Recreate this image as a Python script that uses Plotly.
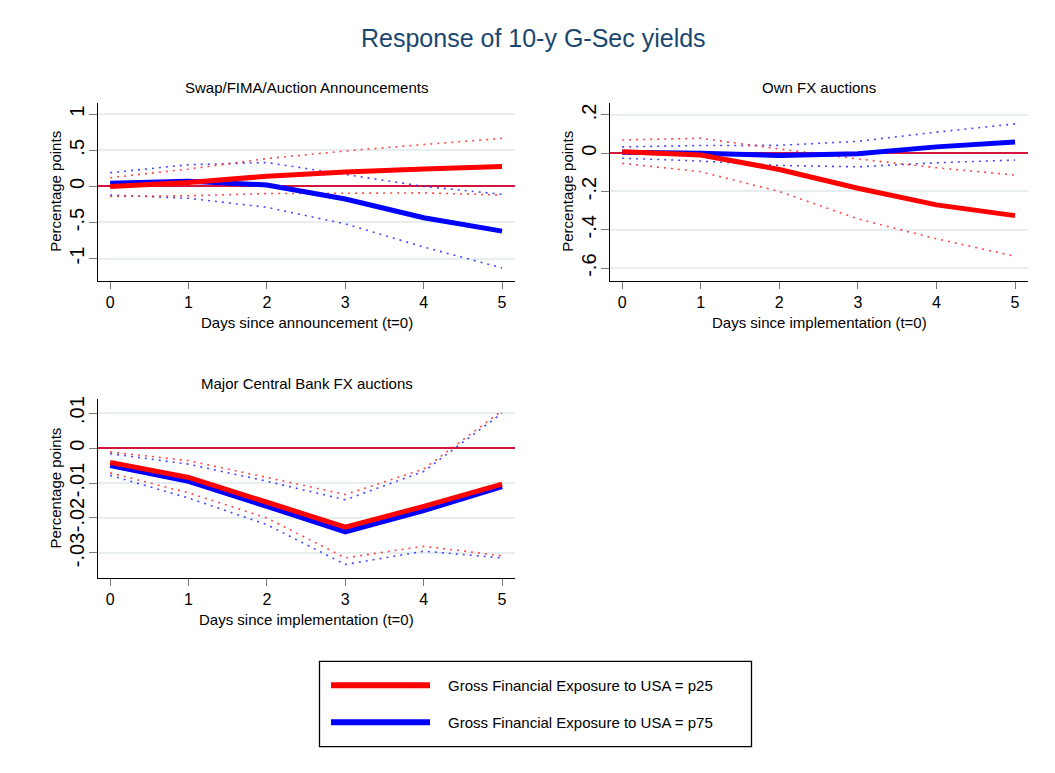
import plotly.graph_objects as go

# page has an 8px body margin; figure is sized/positioned to compensate
OFF = 8
W, H = 1055 - OFF, 773 - OFF
FONT = "Liberation Sans, Arial, sans-serif"

days = [0, 1, 2, 3, 4, 5]

# Panel 1: Swap/FIMA/Auction Announcements
p1_p25 = [0.0, 0.055, 0.14, 0.2, 0.24, 0.275]
p1_p75 = [0.045, 0.07, 0.02, -0.175, -0.435, -0.62]
p1_p25_hi = [0.12, 0.24, 0.385, 0.49, 0.58, 0.665]
p1_p25_lo = [-0.14, -0.13, -0.10, -0.095, -0.09, -0.12]
p1_p75_hi = [0.19, 0.30, 0.33, 0.17, 0.0, -0.11]
p1_p75_lo = [-0.12, -0.165, -0.29, -0.52, -0.84, -1.13]

# Panel 2: Own FX auctions
p2_p25 = [0.007, -0.009, -0.085, -0.183, -0.27, -0.326]
p2_p75 = [0.005, 0.0, -0.012, -0.003, 0.033, 0.059]
p2_p25_hi = [0.069, 0.078, 0.022, -0.03, -0.076, -0.114]
p2_p25_lo = [-0.053, -0.097, -0.2, -0.343, -0.447, -0.538]
p2_p75_hi = [0.033, 0.04, 0.041, 0.062, 0.11, 0.153]
p2_p75_lo = [-0.026, -0.041, -0.064, -0.071, -0.05, -0.036]

# Panel 3: Major Central Bank FX auctions
p3_p25 = [-0.0041, -0.0084, -0.0155, -0.0226, -0.0167, -0.0103]
p3_p75 = [-0.0050, -0.0095, -0.0167, -0.0240, -0.0179, -0.0110]
p3_p25_hi = [-0.0011, -0.0036, -0.0084, -0.0133, -0.0060, 0.0107]
p3_p25_lo = [-0.0071, -0.0128, -0.0200, -0.0314, -0.0281, -0.0308]
p3_p75_hi = [-0.0016, -0.0046, -0.0095, -0.0148, -0.0067, 0.0100]
p3_p75_lo = [-0.0078, -0.0143, -0.0219, -0.0333, -0.0295, -0.0314]

panel_titles = ["Swap/FIMA/Auction Announcements", "Own FX auctions",
                "Major Central Bank FX auctions"]
x_titles = ["Days since announcement (t=0)", "Days since implementation (t=0)",
            "Days since implementation (t=0)"]
y_title = "Percentage points"
p1_ticks = [1, 0.5, 0, -0.5, -1]
p1_ticktext = ["1", ".5", "0", "-.5", "-1"]
p2_ticks = [0.2, 0, -0.2, -0.4, -0.6]
p2_ticktext = [".2", "0", "-.2", "-.4", "-.6"]
p3_ticks = [0.01, 0, -0.01, -0.02, -0.03]
p3_ticktext = [".01", "0", "-.01", "-.02", "-.03"]
legend_labels = ["Gross Financial Exposure to USA = p25",
                 "Gross Financial Exposure to USA = p75"]
main_title = "Response of 10-y G-Sec yields"

RED = "#ff0000"
BLUE = "#0000ff"
RED_DOT = "rgba(255,40,40,0.85)"
BLUE_DOT = "rgba(40,40,255,0.85)"


def px_x(p):
    return (p - OFF) / W


def px_y(p):
    return 1 - (p - OFF) / H


fig = go.Figure()

panels = [
    ("x", "y", p1_p25, p1_p75, p1_p25_hi, p1_p25_lo, p1_p75_hi, p1_p75_lo),
    ("x2", "y2", p2_p25, p2_p75, p2_p25_hi, p2_p25_lo, p2_p75_hi, p2_p75_lo),
    ("x3", "y3", p3_p25, p3_p75, p3_p25_hi, p3_p25_lo, p3_p75_hi, p3_p75_lo),
]

for xa, ya, s25, s75, h25, l25, h75, l75 in panels:
    for vals, col in [(h75, BLUE_DOT), (l75, BLUE_DOT), (h25, RED_DOT), (l25, RED_DOT)]:
        fig.add_trace(go.Scatter(x=days, y=vals, mode="lines", xaxis=xa, yaxis=ya,
                                 line=dict(color=col, width=1.6, dash="2px,5px"),
                                 showlegend=False, hoverinfo="skip"))
    fig.add_trace(go.Scatter(x=days, y=s75, mode="lines", xaxis=xa, yaxis=ya,
                             line=dict(color=BLUE, width=5), name=legend_labels[1],
                             showlegend=False))
    fig.add_trace(go.Scatter(x=days, y=s25, mode="lines", xaxis=xa, yaxis=ya,
                             line=dict(color=RED, width=5), name=legend_labels[0],
                             showlegend=False))

xdom_left = [px_x(98), px_x(515)]
xdom_right = [px_x(610), px_x(1028)]
ydom_top = [px_y(279), px_y(100)]
ydom_bot = [px_y(577), px_y(398)]


def xaxis_cfg(dom, anchor):
    return dict(domain=dom, anchor=anchor, range=[-0.155, 5.165],
                tickvals=days, ticks="outside", ticklen=7, tickwidth=1.2,
                tickcolor="#7a7a7a", showline=True, linecolor="black", linewidth=1.3,
                showgrid=False, zeroline=False,
                tickfont=dict(family=FONT, size=16, color="black"))


def yaxis_cfg(dom, anchor, rng, tv, tt):
    return dict(domain=dom, anchor=anchor, range=rng, tickvals=tv, ticktext=tt,
                tickangle=-90, ticks="outside", ticklen=8, tickwidth=1.2,
                ticklabelstandoff=-3,
                tickcolor="#7a7a7a", showline=True, linecolor="black", linewidth=1.3,
                showgrid=True, gridcolor="#e6eef0", gridwidth=1.6,
                zeroline=True, zerolinecolor="#d4163f", zerolinewidth=1.5,
                tickfont=dict(family=FONT, size=20, color="black"))


fig.update_layout(
    width=W, height=H,
    margin=dict(l=0, r=0, t=0, b=0),
    paper_bgcolor="white", plot_bgcolor="white",
    showlegend=False,
    font=dict(family=FONT, color="black"),
    xaxis=xaxis_cfg(xdom_left, "y"),
    yaxis=yaxis_cfg(ydom_top, "x", [-1.31, 1.16], p1_ticks, p1_ticktext),
    xaxis2=xaxis_cfg(xdom_right, "y2"),
    yaxis2=yaxis_cfg(ydom_top, "x2", [-0.667, 0.264], p2_ticks, p2_ticktext),
    xaxis3=xaxis_cfg(xdom_left, "y3"),
    yaxis3=yaxis_cfg(ydom_bot, "x3", [-0.0371, 0.0139], p3_ticks, p3_ticktext),
)


def text_ann(text, x, y, size, color="black", angle=0, xanchor="center"):
    return dict(text=text, x=px_x(x), y=px_y(y), xref="paper", yref="paper",
                showarrow=False, xanchor=xanchor, yanchor="middle", textangle=angle,
                font=dict(family=FONT, size=size, color=color))


annotations = [
    text_ann(main_title, 533, 35, 25, "#1a476f"),
    text_ann(panel_titles[0], 306.5, 85, 15),
    text_ann(panel_titles[1], 819, 85, 15),
    text_ann(panel_titles[2], 306.5, 382, 15),
    # axis titles
    text_ann(x_titles[0], 306.5, 321, 15),
    text_ann(x_titles[1], 819, 321, 15),
    text_ann(x_titles[2], 306.5, 619, 15),
    text_ann(y_title, 56, 189.5, 15, angle=-90),
    text_ann(y_title, 568, 189.5, 15, angle=-90),
    text_ann(y_title, 56, 487.5, 15, angle=-90),
]

shapes = [
    # legend box
    dict(type="rect", xref="paper", yref="paper", x0=px_x(319.5), x1=px_x(751.5),
         y0=px_y(746.5), y1=px_y(661), line=dict(color="black", width=1.3),
         fillcolor="white"),
]

leg_y = [685, 722]
leg_cols = [RED, BLUE]
for lab, yy, col in zip(legend_labels, leg_y, leg_cols):
    shapes.append(dict(type="line", xref="paper", yref="paper",
                       x0=px_x(331), x1=px_x(430), y0=px_y(yy), y1=px_y(yy),
                       line=dict(color=col, width=6)))
    annotations.append(text_ann(lab, 446, yy, 15, xanchor="left"))

fig.update_layout(annotations=annotations, shapes=shapes)

fig.write_html("out.html")
